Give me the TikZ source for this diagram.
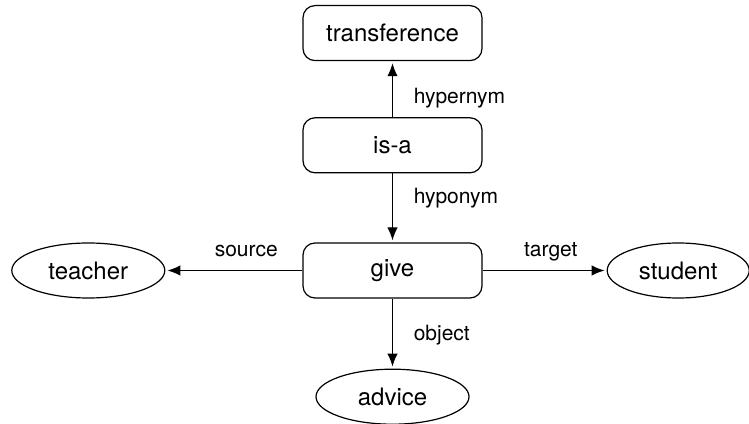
\documentclass[tikz,border=0pt]{standalone}
\usepackage{fontspec}
\setmainfont{TeX Gyre Heros}
\usetikzlibrary{shapes.geometric}
\usetikzlibrary{arrows.meta,positioning}

\begin{document}
\begin{tikzpicture}[line width=0.6pt,
                box/.style = {draw, rounded corners=6pt, minimum width=89.5pt, minimum height=27.5pt, font=\fontsize{12}{14}\selectfont},
                oval/.style = {draw, ellipse, minimum width=76.5pt, minimum height=27.5pt, inner sep=0pt, font=\fontsize{12}{14}\selectfont},
                rel/.style = {font=\fontsize{10.5}{12}\selectfont, text height=1.6ex, text depth=0.45ex},
                link/.style = {-{Latex[length=6.5pt,width=5.2pt]}, shorten >=1pt}
                ]
                \useasboundingbox (0,0) rectangle (374.5pt,211.5pt);
                \node[box] (give) at (196.25pt,76.25pt) {give};
                \node[box, above=34.5pt of give] (isa) {is-a};
                \node[box, above=28pt of isa] (transference) {transference};
                \node[oval, left=68.5pt of give] (teacher) {teacher};
                \node[oval, right=62pt of give, minimum width=71pt] (student) {student};
                \node[oval, below=35pt of give] (advice) {advice};

                \draw[link] (isa) -- node[rel, pos=0.36, right=7pt] {hypernym} (transference);
                \draw[link] (isa) -- node[rel, pos=0.35, right=7pt] {hyponym} (give);
                \draw[link] (give) -- node[rel, pos=0.41, above=1pt] {source} (teacher);
                \draw[link] (give) -- node[rel, pos=0.55, above=1pt] {target} (student);
                \draw[link] (give) -- node[rel, pos=0.51, right=7pt] {object} (advice);
            \end{tikzpicture}
\end{document}
